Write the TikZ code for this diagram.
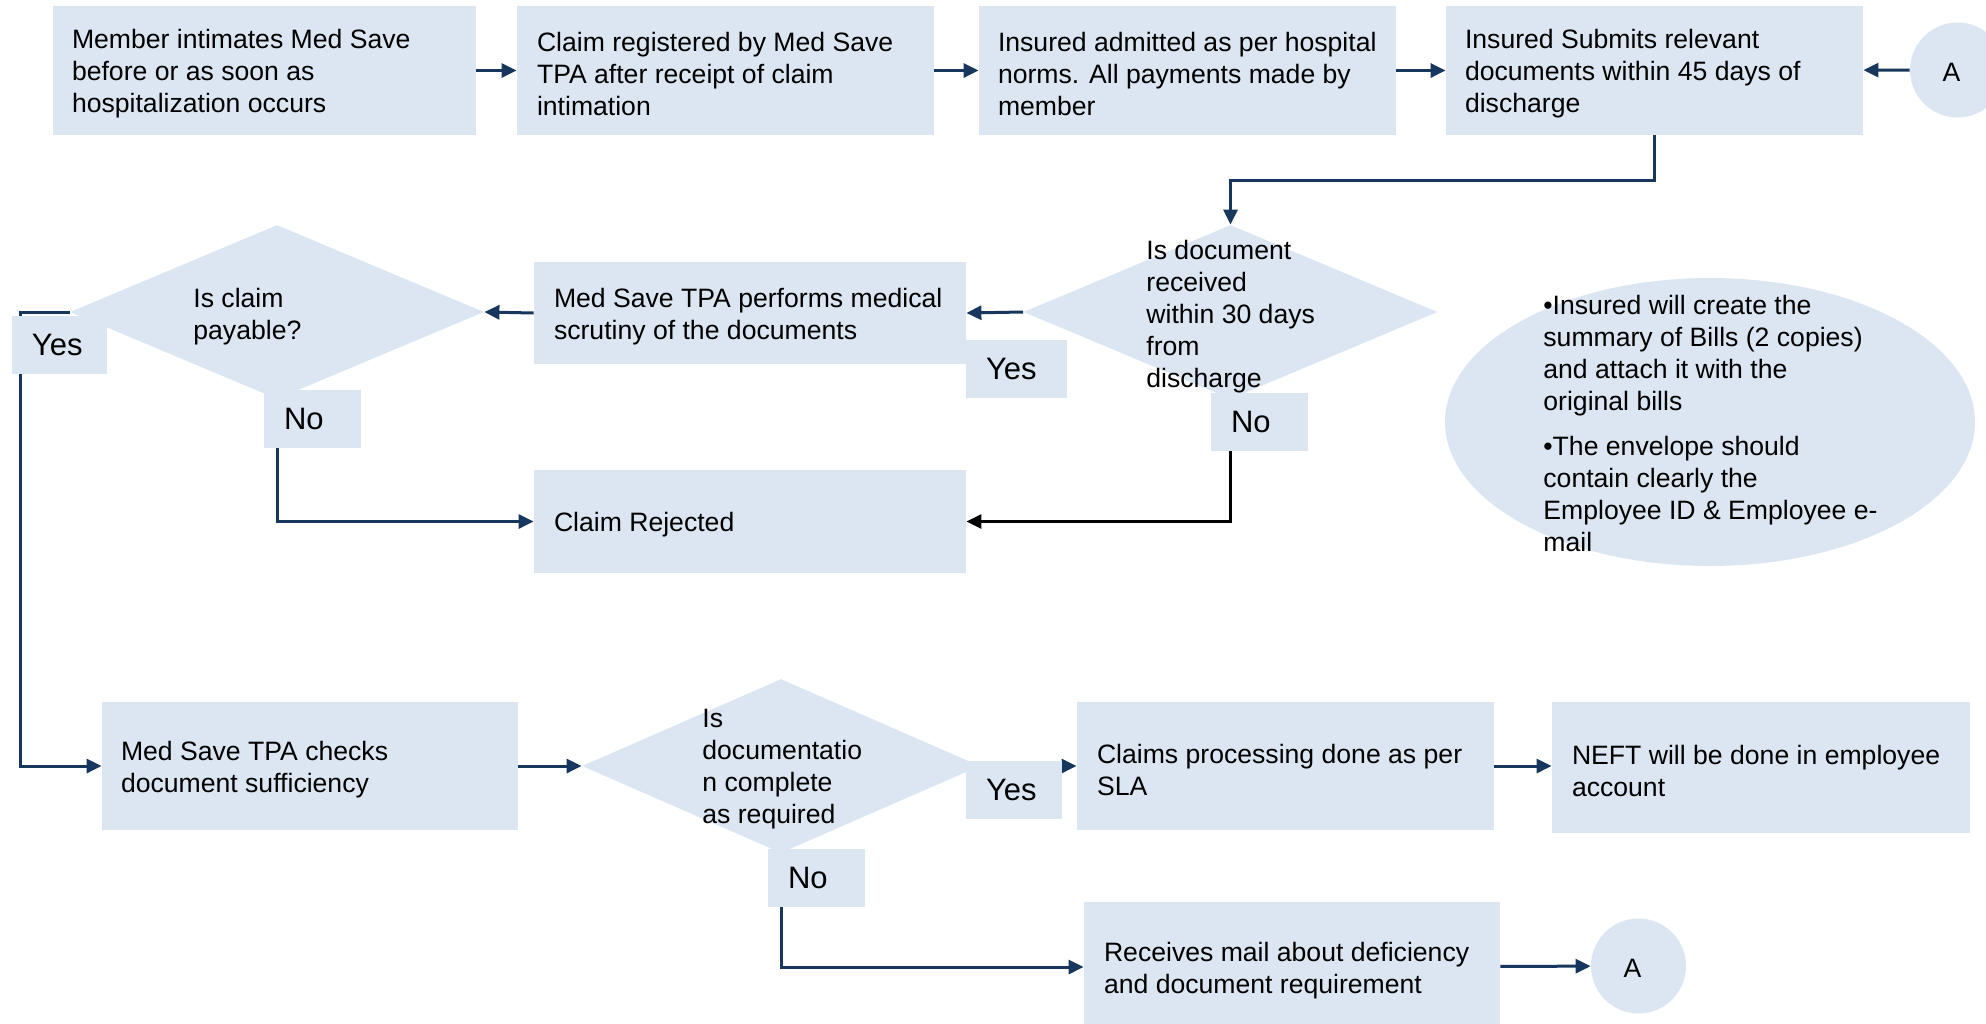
\documentclass[tikz,border=0pt]{standalone}
\usepackage{fontspec}
\setmainfont{Liberation Sans}
\usetikzlibrary{shapes.geometric,arrows.meta,calc}
\definecolor{boxfill}{HTML}{DCE6F2}
\definecolor{navy}{HTML}{17375E}
\begin{document}
\begin{tikzpicture}[x=0.5pt,y=-0.5pt,
  box/.style={rectangle,fill=boxfill,inner sep=0pt},
  dec/.style={diamond,fill=boxfill,inner sep=0pt,minimum height=87pt},
  conn/.style={circle,fill=boxfill,inner sep=0pt,minimum size=47.5pt},
  txt/.style={inner sep=0pt,align=left,font=\fontsize{13.3}{16}\selectfont,anchor=west},
  btxt/.style={txt,yshift=-1.8pt},
  dtxt/.style={txt,yshift=-0.9pt},
  lbl/.style={box,minimum height=29pt},
  lbltxt/.style={inner sep=0pt,font=\fontsize{15.5}{18}\selectfont,anchor=west},
  arr/.style={navy,line width=1.5pt,-{Triangle[length=7.5pt,width=7pt]}},
  arrk/.style={arr,black}
]
\useasboundingbox (0,0) rectangle (1986,1023);

% row 1
\node[box,minimum width=211.5pt,minimum height=64.5pt] (b1) at (264.5,70.5) {};
\node[box,minimum width=208.5pt,minimum height=64.5pt] (b2) at (725.5,70.5) {};
\node[box,minimum width=208.5pt,minimum height=64.5pt] (b3) at (1187.5,70.5) {};
\node[box,minimum width=208.5pt,minimum height=64.5pt] (b4) at (1654.5,70.5) {};
\node[conn] (a1) at (1957.5,70) {};
\node[txt,anchor=center] (a1t) at ([xshift=-3pt,yshift=-1pt]a1.center) {A};
\node[btxt] (b1t) at ([xshift=9.5pt]b1.west) {Member intimates Med Save\\before or as soon as\\hospitalization occurs};
\node[btxt] (b2t) at ([xshift=10pt]b2.west) {Claim registered by Med Save\\TPA after receipt of claim\\intimation};
\node[btxt] (b3t) at ([xshift=9.5pt]b3.west) {Insured admitted as per hospital\\norms. All payments made by\\member};
\node[btxt] (b4t) at ([xshift=9.5pt]b4.west) {Insured Submits relevant\\documents within 45 days of\\discharge};

% row 2
\node[dec,minimum width=207pt] (d1) at (1230.5,312) {};
\node[box,minimum width=216pt,minimum height=51pt] (m1) at (750,313) {};
\node[dec,minimum width=207pt] (d2) at (277,312) {};
\node[box,minimum width=216pt,minimum height=51.5pt] (rej) at (750,521.5) {};
\node[ellipse,fill=boxfill,inner sep=0pt,minimum width=265pt,minimum height=144pt] (note) at (1710,422) {};

\node[dtxt] (d1t) at (1146,314.5) {Is document\\received\\within 30 days\\from\\discharge};
\node[btxt] (m1t) at ([xshift=10pt]m1.west) {Med Save TPA performs medical\\scrutiny of the documents};
\node[dtxt] (d2t) at (193,315) {Is claim\\payable?};
\node[btxt] (rejt) at ([xshift=10pt]rej.west) {Claim Rejected};
\node[txt] (notet) at (1543,423) {•Insured will create the\\summary of Bills (2 copies)\\and attach it with the\\original bills\\[6.5pt]•The envelope should\\contain clearly the\\Employee ID \& Employee e-\\mail};

% row 3
\node[box,minimum width=208pt,minimum height=64pt] (chk) at (310,766) {};
\node[dec,minimum width=199pt] (d3) at (781,766) {};
\node[box,minimum width=208.5pt,minimum height=64pt] (proc) at (1285.5,766) {};
\node[box,minimum width=209pt,minimum height=65.5pt] (neft) at (1761,767.5) {};
\node[box,minimum width=208pt,minimum height=65pt] (mail) at (1292,967) {};
\node[conn] (a2) at (1638.5,966) {};
\node[txt,anchor=center] (a2t) at ([xshift=-3pt,yshift=-1pt]a2.center) {A};

\node[btxt] (chkt) at ([xshift=9.5pt]chk.west) {Med Save TPA checks\\document sufficiency};
\node[dtxt] (d3t) at (702,767) {Is\\documentatio\\n complete\\as required};
\node[btxt] (proct) at ([xshift=10pt]proc.west) {Claims processing done as per\\SLA};
\node[btxt] (neftt) at ([xshift=10pt]neft.west) {NEFT will be done in employee\\account};
\node[btxt] (mailt) at ([xshift=10pt]mail.west) {Receives mail about deficiency\\and document requirement};

% connectors
\draw[arr] (b1) -- (b2);
\draw[arr] (b2) -- (b3);
\draw[arr] (b3) -- (b4);
\draw[arr] (a1) -- (b4);
\draw[arr] (b4.south) -- ++(0,45) -| (d1.north);
\draw[arr] (d1.west) -- (m1.east);
\draw[arr] (m1.west) -- (d2.east);
\draw[arr] (d2.west) -- ++(-49,0) |- (chk.west);
\draw[arr] (d2.south) |- (rej.west);
\draw[arrk] (d1.south) |- (rej.east);
\draw[arr] (chk) -- (d3);
\draw[arr] (d3.east) -- (proc.west);
\draw[arr] (proc.east) -- (proc.east -| neft.west);
\draw[arr] (d3.south) |- (mail.west);
\draw[arr] (mail) -- (a2);

% yes / no labels
\node[lbl,minimum width=47.5pt] (yes2) at (59.5,345) {};
\node[lbltxt] (yes2t) at ([xshift=10pt]yes2.west) {Yes};
\node[lbl,minimum width=48.5pt] (no2) at (312.5,419) {};
\node[lbltxt] (no2t) at ([xshift=10pt]no2.west) {No};
\node[lbl,minimum width=50.5pt] (yes1) at (1016.5,369) {};
\node[lbltxt] (yes1t) at ([xshift=10pt]yes1.west) {Yes};
\node[lbl,minimum width=48.5pt] (no1) at (1259.5,422) {};
\node[lbltxt] (no1t) at ([xshift=10pt]no1.west) {No};
\node[lbl,minimum width=48pt] (yes3) at (1014,790) {};
\node[lbltxt] (yes3t) at ([xshift=10pt]yes3.west) {Yes};
\node[lbl,minimum width=48.5pt] (no3) at (816.5,878) {};
\node[lbltxt] (no3t) at ([xshift=10pt]no3.west) {No};
\end{tikzpicture}
\end{document}
